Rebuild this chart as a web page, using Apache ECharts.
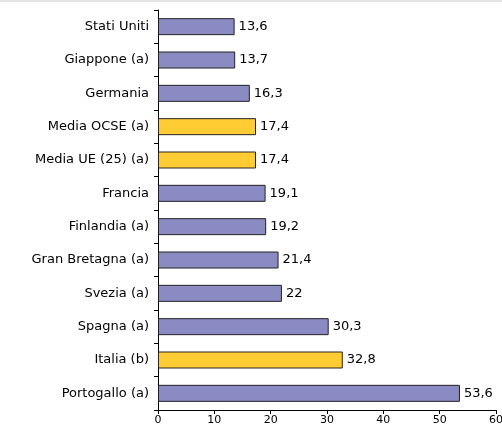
<!DOCTYPE html>
<html>
<head>
<meta charset="utf-8">
<script src="https://cdn.jsdelivr.net/npm/echarts@6/dist/echarts.min.js"></script>
<style>
  html, body { margin: 0; padding: 0; background: #fff; }
  #topbar { width: 502px; height: 2px; background: #e4e4e4; }
  #chart { width: 502px; height: 430px; }
</style>
</head>
<body>
<div id="topbar"></div>
<div id="chart"></div>
<script>
  // categories from top to bottom
  var paesi = ['Stati Uniti', 'Giappone (a)', 'Germania', 'Media OCSE (a)', 'Media UE (25) (a)', 'Francia',
    'Finlandia (a)', 'Gran Bretagna (a)', 'Svezia (a)', 'Spagna (a)', 'Italia (b)', 'Portogallo (a)'];
  var valori = [13.6, 13.7, 16.3, 17.4, 17.4, 19.1, 19.2, 21.4, 22, 30.3, 32.8, 53.6];
  // highlighted bars (yellow)
  var evidenziati = ['Media OCSE (a)', 'Media UE (25) (a)', 'Italia (b)'];
  var tickX = [0, 10, 20, 30, 40, 50, 60];

  var chart = echarts.init(document.getElementById('chart'));
  var dati = paesi.map(function (p, i) {
    return {
      value: valori[i],
      itemStyle: { color: evidenziati.indexOf(p) >= 0 ? '#ffcc33' : '#8b8bc4' }
    };
  });

  chart.setOption({
    animation: false,
    textStyle: { fontFamily: 'DejaVu Sans' },
    grid: { left: 158, right: 6, top: 8, bottom: 22, outerBoundsMode: 'none' },
    xAxis: {
      type: 'value',
      min: tickX[0],
      max: tickX[tickX.length - 1],
      interval: 10,
      splitLine: { show: false },
      axisLine: { show: true, lineStyle: { color: '#000' } },
      axisTick: { show: true, length: 4, lineStyle: { color: '#000' } },
      axisLabel: { color: '#000', fontSize: 11, margin: 5 }
    },
    yAxis: {
      type: 'category',
      inverse: true,
      data: paesi,
      axisLine: { lineStyle: { color: '#000' } },
      axisTick: { show: true, length: 4, lineStyle: { color: '#000' } },
      axisLabel: { color: '#000', fontSize: 13, margin: 9 }
    },
    series: [{
      type: 'bar',
      data: dati,
      barWidth: 17,
      itemStyle: { borderColor: '#222', borderWidth: 1 },
      label: {
        show: true,
        position: 'right',
        distance: 4,
        color: '#000',
        fontSize: 13,
        formatter: function (p) { return String(p.value).replace('.', ','); }
      }
    }]
  });
</script>
</body>
</html>
